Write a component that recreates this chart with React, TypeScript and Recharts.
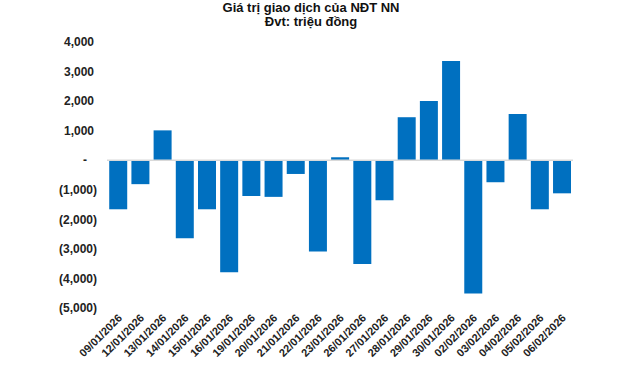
import { Bar, BarChart, ReferenceLine, XAxis, YAxis } from "recharts";

const dates = [
  "09/01/2026", "12/01/2026", "13/01/2026", "14/01/2026", "15/01/2026", "16/01/2026", "19/01/2026",
  "20/01/2026", "21/01/2026", "22/01/2026", "23/01/2026", "26/01/2026", "27/01/2026", "28/01/2026",
  "29/01/2026", "30/01/2026", "02/02/2026", "03/02/2026", "04/02/2026", "05/02/2026", "06/02/2026",
];
const netValues = [
  -1660, -810, 1010, -2640, -1660, -3790, -1210, -1240, -465, -3085, 100, -3515, -1355, 1455,
  2000, 3355, -4510, -745, 1560, -1660, -1120,
];
const yTicks = [4000, 3000, 2000, 1000, 0, -1000, -2000, -3000, -4000, -5000];

const data = dates.map((d, i) => ({ date: d, value: netValues[i] }));

const FONT = "'Liberation Sans', Arial, sans-serif";

function fmt(v: number) {
  if (v === 0) return "-";
  const s = Math.abs(v).toLocaleString("en-US");
  return v < 0 ? `(${s})` : s;
}

function YTick({ x, y, payload }: any) {
  const v = payload.value;
  const shift = v < 0 ? 0 : v > 0 ? -3 : -10;
  return (
    <text x={x + shift} y={y} dy="0.355em" textAnchor="end" fontFamily={FONT} fontSize={12} fontWeight="bold" fill="#222">
      {fmt(v)}
    </text>
  );
}

function XTick({ x, y, payload }: any) {
  return (
    <text x={x} y={y} dy="0.6em" textAnchor="end" transform={`rotate(-45 ${x} ${y})`} fontFamily={FONT} fontSize={11} fontWeight="bold" fill="#222">
      {payload.value}
    </text>
  );
}

export default function App() {
  return (
    <div style={{ position: "absolute", left: 0, top: 0, width: 640, height: 370, background: "#fff", fontFamily: FONT }}>
      <div style={{ position: "absolute", left: 0, width: 622, top: 1, textAlign: "center", fontWeight: "bold", fontSize: 13, lineHeight: "14px", color: "#111" }}>
        Giá trị giao dịch của NĐT NN
        <br />
        Đvt: triệu đồng
      </div>
      <BarChart width={640} height={370} data={data} margin={{ top: 42, right: 67, bottom: 0, left: 0 }} barCategoryGap="10%">
        <XAxis dataKey="date" height={62} axisLine={false} tickLine={false} tickSize={0} tickMargin={6} interval={0} tick={<XTick />} />
        <YAxis width={107} domain={[-5000, 4000]} ticks={yTicks} interval={0} axisLine={false} tickLine={false} tickSize={0} tickMargin={10} tick={<YTick />} />
        <Bar dataKey="value" fill="#0070c0" isAnimationActive={false} />
        <ReferenceLine y={0} stroke="#d9d9d9" strokeWidth={1.5} />
      </BarChart>
    </div>
  );
}
